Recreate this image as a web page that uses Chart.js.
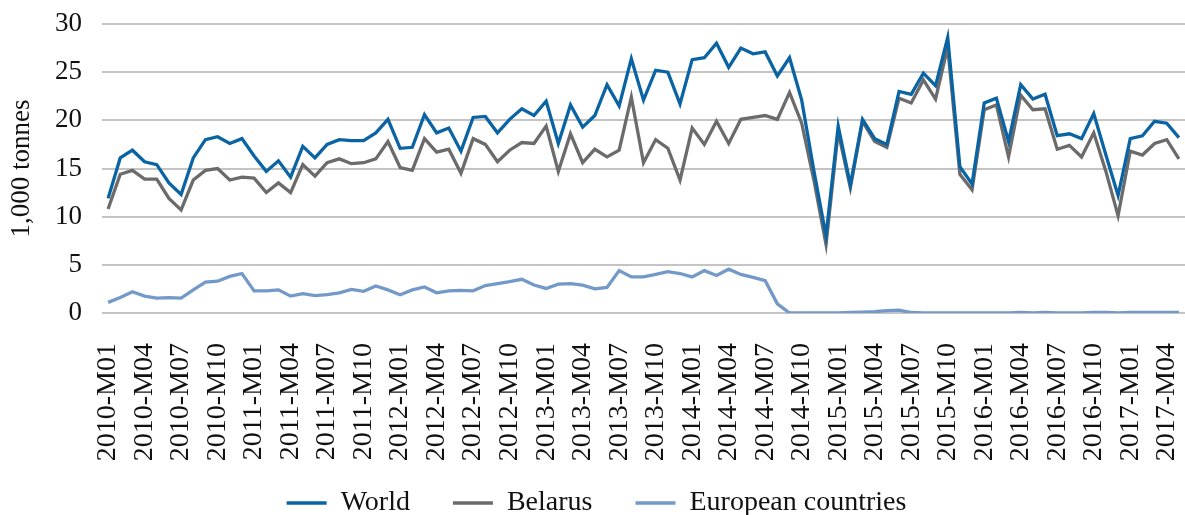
<!DOCTYPE html>
<html>
<head>
<meta charset="utf-8">
<script src="https://cdn.jsdelivr.net/npm/chart.js@4"></script>
<style>
  html, body { margin: 0; padding: 0; background: #fff; }
  .wrap { width: 1185px; height: 515px; }
</style>
</head>
<body>
<div class="wrap"><canvas id="lineChart" width="1185" height="515"></canvas></div>
<script>
// monthly labels 2010-M01 .. 2017-M05
const months = [];
for (let y = 2010; y <= 2017; y++) {
    for (let m = 1; m <= 12; m++) {
        if (y === 2017 && m > 5) break;
        months.push(y + '-M' + (m < 10 ? '0' + m : m));
    }
}

const world = [
    11.9, 16.1, 16.9, 15.7, 15.4, 13.5, 12.3, 16.1, 18.0, 18.3, 17.6, 18.1,
    16.3, 14.7, 15.8, 14.1, 17.3, 16.1, 17.5, 18.0, 17.9, 17.9, 18.7, 20.1,
    17.1, 17.2, 20.6, 18.7, 19.2, 16.8, 20.3, 20.4, 18.7, 20.1, 21.2, 20.5,
    22.0, 17.6, 21.6, 19.3, 20.5, 23.7, 21.5, 26.4, 22.1, 25.2, 25.0, 21.7,
    26.3, 26.5, 28.0, 25.5, 27.5, 26.9, 27.1, 24.6, 26.5, 22.1, 14.8, 8.0,
    19.4, 13.3, 20.1, 18.1, 17.5, 23.0, 22.7, 24.9, 23.6, 28.6, 15.2, 13.4,
    21.8, 22.3, 17.8, 23.7, 22.2, 22.7, 18.4, 18.6, 18.1, 20.7, 16.4, 12.2,
    18.1, 18.4, 19.9, 19.7, 18.2
];

const belarus = [
    10.8, 14.4, 14.8, 13.9, 13.9, 11.9, 10.7, 13.8, 14.8, 15.0, 13.8, 14.1,
    14.0, 12.5, 13.5, 12.5, 15.4, 14.2, 15.6, 16.0, 15.5, 15.6, 16.0, 17.8,
    15.1, 14.8, 18.1, 16.7, 17.0, 14.5, 18.1, 17.5, 15.7, 16.9, 17.7, 17.6,
    19.4, 14.7, 18.6, 15.6, 17.0, 16.2, 16.9, 22.4, 15.6, 18.0, 17.1, 13.8,
    19.2, 17.5, 19.9, 17.6, 20.1, 20.3, 20.5, 20.1, 22.9, 19.7, 13.8, 7.1,
    18.8, 13.0, 19.9, 17.8, 17.2, 22.3, 21.8, 24.2, 22.2, 27.6, 14.4, 12.8,
    21.1, 21.6, 16.2, 22.6, 21.1, 21.2, 17.0, 17.4, 16.2, 18.7, 14.7, 10.1,
    16.8, 16.4, 17.6, 18.0, 16.0
];

const europe = [
    1.1, 1.6, 2.2, 1.75, 1.55, 1.6, 1.55, 2.4, 3.2, 3.3, 3.8, 4.1,
    2.3, 2.3, 2.4, 1.75, 2.0, 1.8, 1.9, 2.1, 2.45, 2.25, 2.8, 2.4,
    1.9, 2.4, 2.7, 2.1, 2.3, 2.35, 2.3, 2.85, 3.05, 3.25, 3.5, 2.9,
    2.55, 3.0, 3.05, 2.9, 2.5, 2.65, 4.4, 3.75, 3.75, 4.0, 4.3, 4.1,
    3.75, 4.4, 3.9, 4.55, 4.0, 3.7, 3.35, 0.95, 0.0, 0.0, 0.0, 0.0,
    0.02, 0.05, 0.1, 0.15, 0.25, 0.3, 0.05, 0.02, 0.02, 0.02, 0.02, 0.02,
    0.0, 0.02, 0.02, 0.05, 0.02, 0.05, 0.02, 0.02, 0.02, 0.05, 0.05, 0.02,
    0.05, 0.05, 0.05, 0.05, 0.05
];

const yTicks = [0, 5, 10, 15, 20, 25, 30];

const serif = '"Liberation Serif", "DejaVu Serif", serif';

function series(label, data, color) {
    return {
        label: label,
        data: data,
        borderColor: color,
        backgroundColor: color,
        borderWidth: 3.3,
        pointRadius: 0,
        tension: 0,
        pointStyle: 'line'
    };
}

const ctx = document.getElementById('lineChart').getContext('2d');
const myChart = new Chart(ctx, {
    type: 'line',
    data: {
        labels: months,
        datasets: [
            series('World', world, '#0a64a3'),
            series('Belarus', belarus, '#6b6b6b'),
            series('European countries', europe, '#7399c9')
        ]
    },
    options: {
        responsive: false,
        animation: false,
        layout: { padding: { top: 0, right: 0, left: 8, bottom: -12 } },
        plugins: {
            tooltip: { enabled: false },
            legend: {
                position: 'bottom',
                labels: {
                    usePointStyle: true,
                    pointStyleWidth: 40,
                    boxHeight: 28,
                    padding: 43,
                    color: '#111',
                    font: { family: serif, size: 28 }
                }
            }
        },
        scales: {
            x: {
                offset: true,
                grid: { display: false },
                border: { display: false },
                ticks: {
                    autoSkip: false,
                    maxRotation: 90,
                    minRotation: 90,
                    padding: 22,
                    color: '#111',
                    font: { family: serif, size: 28 },
                    callback: (val, i) => i % 3 === 0 ? months[i] : ''
                },
                afterFit: (axis) => {
                    axis.paddingLeft = 0;
                    axis.paddingRight = 0;
                    axis.height = 133;
                    // let the rotated labels run past the axis box
                    axis._computeLabelArea = () => undefined;
                }
            },
            y: {
                min: 0,
                max: 30,
                afterBuildTicks: (axis) => { axis.ticks = yTicks.map(v => ({ value: v })); },
                afterFit: (axis) => { axis.paddingTop = 24; },
                grid: { color: '#c4c4c4', lineWidth: 2, drawTicks: false },
                border: { display: false },
                ticks: {
                    padding: 20,
                    color: '#111',
                    font: { family: serif, size: 27 }
                },
                title: {
                    display: true,
                    text: '1,000 tonnes',
                    color: '#111',
                    font: { family: serif, size: 27, lineHeight: 1 },
                    padding: { top: 0, bottom: 0 }
                }
            }
        }
    }
});
</script>
</body>
</html>
